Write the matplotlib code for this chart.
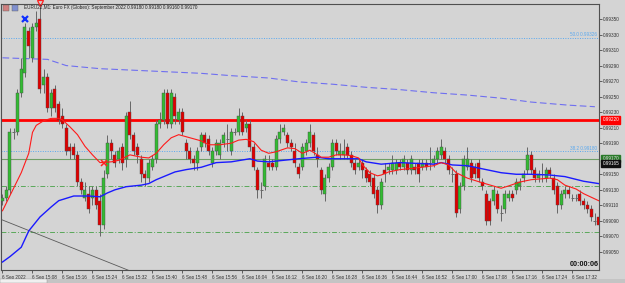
import numpy as np
import matplotlib
matplotlib.use("Agg")
import matplotlib.pyplot as plt
from matplotlib import transforms
from matplotlib.patches import Rectangle

plt.rcParams['font.family'] = ['Liberation Sans', 'DejaVu Sans']

# prices are stored as points above 0.99000 (1 point = 0.00001)
BASE = 0.99
PT = 1e-5

title = "EURU22,M1: Euro FX (Globex): September 2022 0.99180 0.99180 0.99160 0.99170"

opens = [115, 120, 130, 205, 205, 255, 280, 335, 300, 340, 350, 265, 275, 235, 260, 240, 225, 210, 185, 185,
         175, 140, 120, 125, 120, 130, 115, 85, 150, 190, 175, 170, 185, 170, 230, 200, 185, 170, 150, 145,
         160, 170, 215, 220, 255, 215, 250, 220, 230, 190, 180, 170, 165, 185, 200, 195, 165, 180, 175, 190,
         195, 180, 205, 205, 225, 210, 215, 185, 155, 130, 135, 165, 165, 160, 195, 205, 200, 190, 180, 160,
         160, 180, 190, 200, 175, 155, 125, 145, 160, 190, 175, 175, 185, 175, 165, 160, 165, 155, 150, 145,
         130, 110, 155, 155, 155, 155, 165, 160, 165, 155, 160, 165, 160, 165, 165, 165, 170, 175, 180, 170,
         150, 150, 105, 135, 160, 165, 160, 165, 140, 125, 115, 115, 125, 100, 105, 120, 125, 130, 135, 145,
         155, 175, 155, 145, 150, 145, 155, 145, 135, 110, 125, 130, 120, 120, 125, 115, 110, 105, 90, 95]
highs = [125, 135, 210, 210, 260, 300, 345, 340, 345, 360, 370, 285, 280, 260, 265, 245, 235, 215, 190, 190,
         180, 145, 140, 135, 135, 135, 125, 155, 200, 195, 180, 185, 190, 230, 245, 205, 190, 175, 155, 170,
         175, 220, 230, 260, 260, 260, 255, 235, 235, 195, 185, 175, 185, 205, 205, 200, 185, 195, 195, 205,
         215, 210, 210, 235, 230, 220, 220, 190, 160, 140, 175, 175, 170, 200, 215, 215, 205, 195, 190, 165,
         190, 195, 215, 205, 185, 160, 150, 165, 195, 195, 190, 195, 190, 180, 170, 170, 170, 160, 155, 150,
         135, 145, 165, 165, 175, 170, 170, 175, 170, 175, 165, 170, 170, 170, 185, 175, 185, 195, 185, 175,
         160, 155, 140, 175, 185, 170, 165, 170, 145, 130, 120, 135, 130, 110, 130, 130, 130, 145, 145, 155,
         185, 180, 160, 155, 165, 160, 160, 150, 140, 130, 135, 135, 125, 125, 130, 120, 115, 110, 100, 100]
lows = [110, 115, 125, 195, 200, 250, 275, 300, 295, 335, 255, 255, 230, 225, 230, 215, 210, 175, 170, 170,
        135, 125, 115, 100, 110, 105, 70, 80, 145, 170, 160, 165, 155, 160, 195, 175, 165, 140, 135, 140,
        155, 165, 210, 215, 210, 210, 215, 215, 200, 170, 165, 155, 155, 180, 185, 175, 160, 175, 170, 185,
        180, 175, 200, 200, 200, 205, 180, 155, 120, 120, 130, 155, 155, 155, 190, 200, 185, 180, 160, 145,
        155, 175, 185, 175, 160, 125, 115, 140, 155, 175, 170, 170, 170, 160, 150, 155, 145, 140, 135, 120,
        100, 105, 140, 150, 150, 150, 155, 155, 150, 150, 150, 140, 155, 155, 155, 160, 165, 170, 165, 150,
        140, 95, 100, 130, 155, 140, 145, 140, 130, 85, 85, 110, 100, 90, 100, 115, 115, 125, 130, 140,
        150, 150, 140, 140, 140, 140, 145, 125, 100, 105, 120, 120, 115, 115, 110, 105, 100, 90, 85, 80]
closes = [120, 130, 205, 205, 255, 285, 340, 315, 340, 345, 260, 275, 235, 255, 235, 220, 215, 180, 180, 175,
          140, 130, 130, 105, 130, 110, 85, 145, 190, 180, 165, 180, 165, 225, 200, 180, 175, 150, 145, 165,
          170, 215, 220, 255, 215, 255, 225, 230, 205, 180, 170, 165, 180, 200, 190, 180, 180, 190, 190, 200,
          195, 205, 205, 225, 205, 215, 185, 160, 130, 130, 170, 160, 160, 195, 205, 210, 190, 185, 165, 150,
          185, 190, 205, 180, 170, 130, 145, 160, 190, 180, 180, 180, 175, 165, 155, 165, 155, 145, 140, 125,
          110, 140, 150, 160, 165, 165, 160, 170, 155, 170, 155, 150, 165, 160, 165, 170, 180, 185, 170, 155,
          150, 100, 135, 170, 170, 145, 150, 145, 135, 90, 90, 130, 105, 100, 125, 125, 120, 140, 140, 150,
          175, 155, 145, 150, 150, 155, 150, 130, 110, 125, 130, 125, 120, 120, 115, 110, 105, 95, 90, 85]

# moving averages
ma_fast_bars = [0, 5, 7, 8, 9, 11, 13, 15, 16, 18, 20, 22, 24, 26, 29, 31, 34, 37, 39, 41,
                43, 45, 47, 50, 53, 55, 58, 61, 63, 65, 67, 69, 71, 73, 76, 78, 80, 82, 85, 87,
                89, 91, 93, 95, 96, 98, 100, 101, 103, 106, 110, 115, 117, 119, 121, 124, 128, 133, 135, 138,
                141, 146, 148, 150, 153, 155, 159]
ma_fast = [103, 152, 177, 204, 213, 219, 222, 222, 220, 211, 201, 186, 175, 165, 166, 168, 175, 172, 171, 177,
           188, 197, 201, 197, 193, 188, 188, 190, 194, 195, 192, 181, 177, 179, 184, 183, 177, 181, 172, 172,
           175, 175, 174, 171, 162, 152, 148, 149, 153, 156, 158, 161, 165, 162, 152, 145, 139, 132, 135, 140,
           143, 145, 143, 136, 131, 125, 116]
ma_mid_bars = [0, 2, 5, 7, 10, 13, 15, 19, 23, 26, 28, 30, 33, 37, 39, 41, 44, 46, 49, 53,
               57, 61, 66, 68, 71, 75, 79, 84, 87, 90, 95, 97, 101, 106, 115, 117, 120, 124, 128, 133,
               137, 141, 146, 150, 155, 159]
ma_mid = [37, 44, 56, 77, 95, 108, 116, 122, 122, 121, 126, 130, 134, 136, 138, 143, 149, 153, 156, 159,
          165, 166, 170, 167, 166, 168, 170, 172, 170, 170, 170, 166, 163, 165, 163, 165, 162, 161, 157, 152,
          150, 150, 149, 147, 141, 138]
ma_slow_bars = [0, 12, 17, 26, 35, 44, 53, 61, 71, 79, 88, 97, 106, 115, 124, 133, 141, 151, 158]
ma_slow = [300, 298, 290, 286, 284, 282, 280, 277, 274, 269, 266, 262, 259, 255, 252, 248, 243, 239, 237]

trend_bars = [-1, 40]
trend = [93, 14]

red_level = 0.99220
fib_levels = [0.99326, 0.99180]
fib_labels = ["50.0 0.99326", "38.2 0.99180"]
green_level = 0.99170
dashdot_levels = [0.99135, 0.99076]

ytick_values = [0.99050, 0.99070, 0.99090, 0.99110, 0.99130, 0.99150, 0.99190, 0.99210,
                0.99230, 0.99250, 0.99270, 0.99290, 0.99310, 0.99330, 0.99350]
xtick_bars = [0, 8, 16, 24, 32, 40, 48, 56, 64, 72, 80, 88, 96, 104, 112, 120, 128, 136, 144, 152]
xtick_labels = ["6 Sep 2022", "6 Sep 15:08", "6 Sep 15:16", "6 Sep 15:24", "6 Sep 15:32",
                "6 Sep 15:40", "6 Sep 15:48", "6 Sep 15:56", "6 Sep 16:04", "6 Sep 16:12",
                "6 Sep 16:20", "6 Sep 16:28", "6 Sep 16:36", "6 Sep 16:44", "6 Sep 16:52",
                "6 Sep 17:00", "6 Sep 17:08", "6 Sep 17:16", "6 Sep 17:24", "6 Sep 17:32"]

def px(vals):
    return BASE + np.asarray(vals, dtype=float) * PT

o, h, l, c = px(opens), px(highs), px(lows), px(closes)
bars = np.arange(len(o))

BG = "#d4d4d4"
FS = 3.3
fig = plt.figure(figsize=(6.25, 2.83), dpi=100, facecolor=BG)
ax = fig.add_axes([1 / 625, 13 / 283, 598 / 625, 266 / 283])
ax.set_facecolor(BG)

# levels
ax.axhline(red_level, color="#ff0000", lw=2.0, zorder=1)
for lv in fib_levels:
    ax.axhline(lv, color="#58a8f0", lw=0.7, ls=(0, (1, 1.5)), zorder=1)
ax.axhline(green_level, color="#6f9f66", lw=0.8, zorder=1)
for lv in dashdot_levels:
    ax.axhline(lv, color="#5aa85a", lw=0.7, ls=(0, (5, 2, 1, 2)), zorder=1)
ax.plot(trend_bars, px(trend), color="#5a5a5a", lw=0.6, zorder=1)

# moving averages
ax.plot(ma_slow_bars, px(ma_slow), color="#6f6ff0", lw=0.8, ls=(0, (6, 3)), zorder=2)
ax.plot(ma_mid_bars, px(ma_mid), color="#1a1aff", lw=1.0, zorder=4)
ax.plot(ma_fast_bars, px(ma_fast), color="#ff1a1a", lw=0.8, zorder=4)

# candles
ax.vlines(bars, l, h, color="#666666", lw=0.7, zorder=3)
up = c > o
dn = c < o
flat = c == o
ax.bar(bars[up], (c - o)[up], bottom=o[up], width=0.8, color="#33bb33",
       edgecolor="#4a4a4a", linewidth=0.3, zorder=3)
ax.bar(bars[dn], (o - c)[dn], bottom=c[dn], width=0.8, color="#e00000",
       edgecolor="#4a4a4a", linewidth=0.3, zorder=3)
ax.hlines(c[flat], bars[flat] - 0.4, bars[flat] + 0.4, color="#666666", lw=0.7, zorder=3)

# markers
ax.plot([6], [0.99350], marker="x", color="#1030ff", ms=4.5, mew=1.6, zorder=6)
ax.plot([10], [0.99371], marker="v", mfc="none", mec="#ff2020", ms=4.5, mew=0.9,
        zorder=6, clip_on=False)
ax.plot([27], [0.99165], marker="x", color="#ff2020", ms=4, mew=1.1, zorder=6)

ax.set_xlim(-0.4, 159.1)
ax.set_ylim(0.990267, 0.993693)

# axes styling
for s in ["left", "right", "top", "bottom"]:
    ax.spines[s].set_color("#505050")
    ax.spines[s].set_linewidth(0.8)
ax.yaxis.tick_right()
ax.set_yticks(ytick_values)
ax.set_yticklabels([f"{v:.5f}" for v in ytick_values])
ax.tick_params(axis="y", which="both", length=2, width=0.5, pad=1, labelsize=FS,
               colors="#303030")
ax.set_xticks(xtick_bars)
ax.set_xticklabels(xtick_labels, ha="left")
ax.tick_params(axis="x", length=2, width=0.5, pad=1.5, labelsize=FS, colors="#303030")

# level labels
trans = transforms.blended_transform_factory(ax.transAxes, ax.transData)
for lv, txt in zip(fib_levels, fib_labels):
    ax.text(0.997, lv + 0.000004, txt, transform=trans, ha="right", va="bottom",
            fontsize=FS, color="#58a8f0")
ax.text(1.006, red_level, "0.99220", transform=trans, ha="left", va="center",
        fontsize=FS, color="white", clip_on=False,
        bbox=dict(boxstyle="square,pad=0.25", fc="#ff0000", ec="#ff0000"))
ax.text(1.006, green_level, "0.99170", transform=trans, ha="left", va="center",
        fontsize=FS, color="#e0e0e0", clip_on=False,
        bbox=dict(boxstyle="square,pad=0.25", fc="#2a7a2a", ec="#2a7a2a"))
ax.text(1.006, 0.99164, "0.99165", transform=trans, ha="left", va="center",
        fontsize=FS, color="white", clip_on=False,
        bbox=dict(boxstyle="square,pad=0.25", fc="#101010", ec="#101010"))

# countdown timer
ax.text(0.999, 0.006, "00:00:06", transform=ax.transAxes, ha="right", va="bottom",
        fontsize=5.2, fontweight="bold", color="#111111")

# header text and icons
fig.text(24 / 625, 1 - 8 / 283, title, ha="left", va="center", fontsize=FS, color="#202020")
fig.patches.append(Rectangle((3 / 625, 1 - 11 / 283), 6 / 625, 6 / 283, transform=fig.transFigure,
                             fc="#d08080", ec="#606060", lw=0.3))
fig.patches.append(Rectangle((12 / 625, 1 - 11 / 283), 6 / 625, 6 / 283, transform=fig.transFigure,
                             fc="#8090d0", ec="#606060", lw=0.3))

# tab strip at the very bottom
fig.patches.append(Rectangle((0, 0), 1, 4 / 283, transform=fig.transFigure,
                             fc="#c4c4c4", ec="none"))
fig.patches.append(Rectangle((0, 0), 47 / 625, 4 / 283, transform=fig.transFigure,
                             fc="#f0f0f0", ec="#909090", lw=0.3))

fig.savefig("out.png", dpi=100, facecolor=BG)
